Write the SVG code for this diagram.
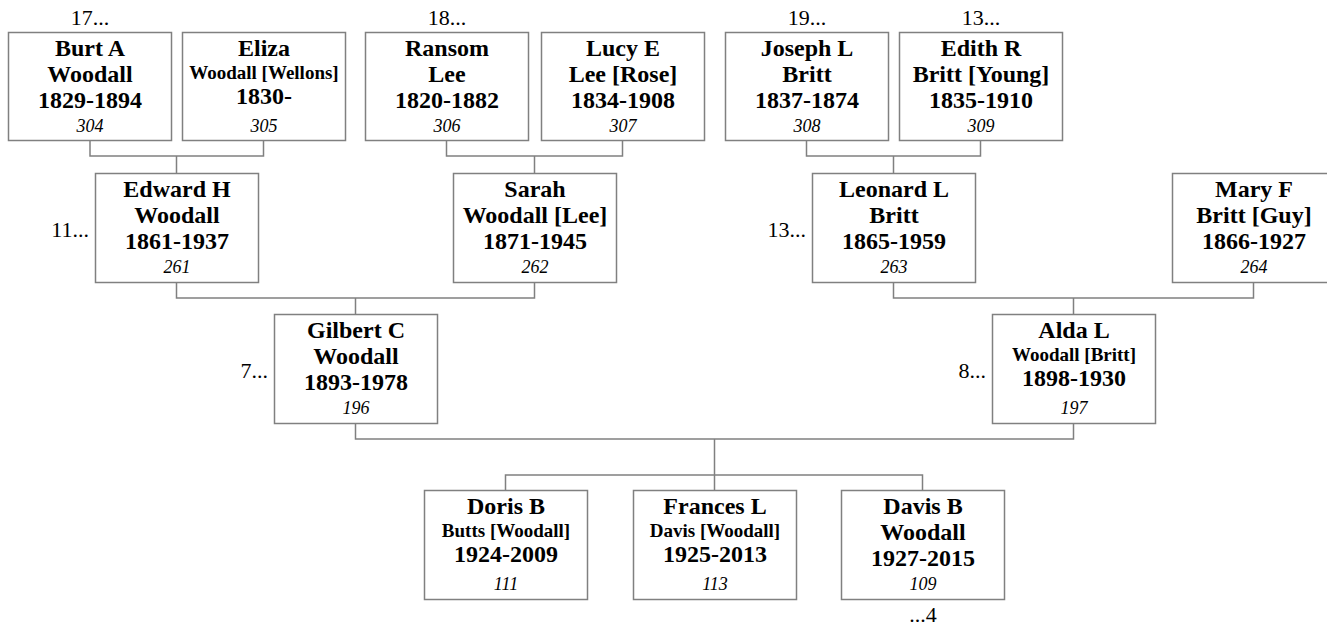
<svg xmlns="http://www.w3.org/2000/svg" width="1327" height="626" viewBox="0 0 1327 626">
<style>
.box{fill:#fff;stroke:#808080;stroke-width:1.5}
.ln{fill:none;stroke:#808080;stroke-width:1.5}
text{font-family:"Liberation Serif","Times New Roman",serif;fill:#000}
.n{font-size:24px;font-weight:bold;text-anchor:middle}
.s{font-size:19px;font-weight:bold;text-anchor:middle}
.id{font-size:18px;font-style:italic;text-anchor:middle}
.lbl{font-size:22px}
.c{text-anchor:middle}
.e{text-anchor:end}
</style>
<rect width="1327" height="626" fill="#fff"/>
<g id="connectors">
<path class="ln" d="M90,140V156H263.5V140M176.5,156V173"/>
<path class="ln" d="M446.5,140V156H622.5V140M534.5,156V173"/>
<path class="ln" d="M806.5,140V156H980.5V140M893.5,156V173"/>
<path class="ln" d="M176.5,282V298H534.5V282M355.5,298V314"/>
<path class="ln" d="M893.5,282V298H1253.5V282M1073.5,298V314"/>
<path class="ln" d="M355.5,423V439H1073.5V423M714.5,439V475"/>
<path class="ln" d="M505.5,490V475H922.5V490M714.5,475V490"/>
</g>
<g id="burt">
<rect class="box" x="8.5" y="32.5" width="163" height="108"/>
<text class="lbl c" x="90" y="25">17...</text>
<text class="n" x="90" y="56">Burt A</text>
<text class="n" x="90" y="82">Woodall</text>
<text class="n" x="90" y="108">1829-1894</text>
<text class="id" x="90" y="132">304</text>
</g>
<g id="eliza">
<rect class="box" x="182.5" y="32.5" width="163" height="108"/>
<text class="n" x="264" y="56">Eliza</text>
<text class="s" x="264" y="79">Woodall [Wellons]</text>
<text class="n" x="264" y="104">1830-</text>
<text class="id" x="264" y="132">305</text>
</g>
<g id="ransom">
<rect class="box" x="365.5" y="32.5" width="163" height="108"/>
<text class="lbl c" x="447" y="25">18...</text>
<text class="n" x="447" y="56">Ransom</text>
<text class="n" x="447" y="82">Lee</text>
<text class="n" x="447" y="108">1820-1882</text>
<text class="id" x="447" y="132">306</text>
</g>
<g id="lucy">
<rect class="box" x="541.5" y="32.5" width="163" height="108"/>
<text class="n" x="623" y="56">Lucy E</text>
<text class="n" x="623" y="82">Lee [Rose]</text>
<text class="n" x="623" y="108">1834-1908</text>
<text class="id" x="623" y="132">307</text>
</g>
<g id="joseph">
<rect class="box" x="725.5" y="32.5" width="163" height="108"/>
<text class="lbl c" x="807" y="25">19...</text>
<text class="n" x="807" y="56">Joseph L</text>
<text class="n" x="807" y="82">Britt</text>
<text class="n" x="807" y="108">1837-1874</text>
<text class="id" x="807" y="132">308</text>
</g>
<g id="edith">
<rect class="box" x="899.5" y="32.5" width="163" height="108"/>
<text class="lbl c" x="981" y="25">13...</text>
<text class="n" x="981" y="56">Edith R</text>
<text class="n" x="981" y="82">Britt [Young]</text>
<text class="n" x="981" y="108">1835-1910</text>
<text class="id" x="981" y="132">309</text>
</g>
<g id="edward">
<rect class="box" x="95.5" y="173.5" width="163" height="109"/>
<text class="lbl e" x="89" y="237">11...</text>
<text class="n" x="177" y="197">Edward H</text>
<text class="n" x="177" y="223">Woodall</text>
<text class="n" x="177" y="249">1861-1937</text>
<text class="id" x="177" y="273">261</text>
</g>
<g id="sarah">
<rect class="box" x="453.5" y="173.5" width="163" height="109"/>
<text class="n" x="535" y="197">Sarah</text>
<text class="n" x="535" y="223">Woodall [Lee]</text>
<text class="n" x="535" y="249">1871-1945</text>
<text class="id" x="535" y="273">262</text>
</g>
<g id="leonard">
<rect class="box" x="812.5" y="173.5" width="163" height="109"/>
<text class="lbl e" x="806" y="237">13...</text>
<text class="n" x="894" y="197">Leonard L</text>
<text class="n" x="894" y="223">Britt</text>
<text class="n" x="894" y="249">1865-1959</text>
<text class="id" x="894" y="273">263</text>
</g>
<g id="mary">
<rect class="box" x="1172.5" y="173.5" width="163" height="109"/>
<text class="n" x="1254" y="197">Mary F</text>
<text class="n" x="1254" y="223">Britt [Guy]</text>
<text class="n" x="1254" y="249">1866-1927</text>
<text class="id" x="1254" y="273">264</text>
</g>
<g id="gilbert">
<rect class="box" x="274.5" y="314.5" width="163" height="109"/>
<text class="lbl e" x="268" y="378">7...</text>
<text class="n" x="356" y="338">Gilbert C</text>
<text class="n" x="356" y="364">Woodall</text>
<text class="n" x="356" y="390">1893-1978</text>
<text class="id" x="356" y="414">196</text>
</g>
<g id="alda">
<rect class="box" x="992.5" y="314.5" width="163" height="109"/>
<text class="lbl e" x="986" y="378">8...</text>
<text class="n" x="1074" y="338">Alda L</text>
<text class="s" x="1074" y="361">Woodall [Britt]</text>
<text class="n" x="1074" y="386">1898-1930</text>
<text class="id" x="1074" y="414">197</text>
</g>
<g id="doris">
<rect class="box" x="424.5" y="490.5" width="163" height="109"/>
<text class="n" x="506" y="514">Doris B</text>
<text class="s" x="506" y="537">Butts [Woodall]</text>
<text class="n" x="506" y="562">1924-2009</text>
<text class="id" x="506" y="590">111</text>
</g>
<g id="frances">
<rect class="box" x="633.5" y="490.5" width="163" height="109"/>
<text class="n" x="715" y="514">Frances L</text>
<text class="s" x="715" y="537">Davis [Woodall]</text>
<text class="n" x="715" y="562">1925-2013</text>
<text class="id" x="715" y="590">113</text>
</g>
<g id="davis">
<rect class="box" x="841.5" y="490.5" width="163" height="109"/>
<text class="n" x="923" y="514">Davis B</text>
<text class="n" x="923" y="540">Woodall</text>
<text class="n" x="923" y="566">1927-2015</text>
<text class="id" x="923" y="590">109</text>
<text class="lbl c" x="923" y="622">...4</text>
</g>
</svg>
